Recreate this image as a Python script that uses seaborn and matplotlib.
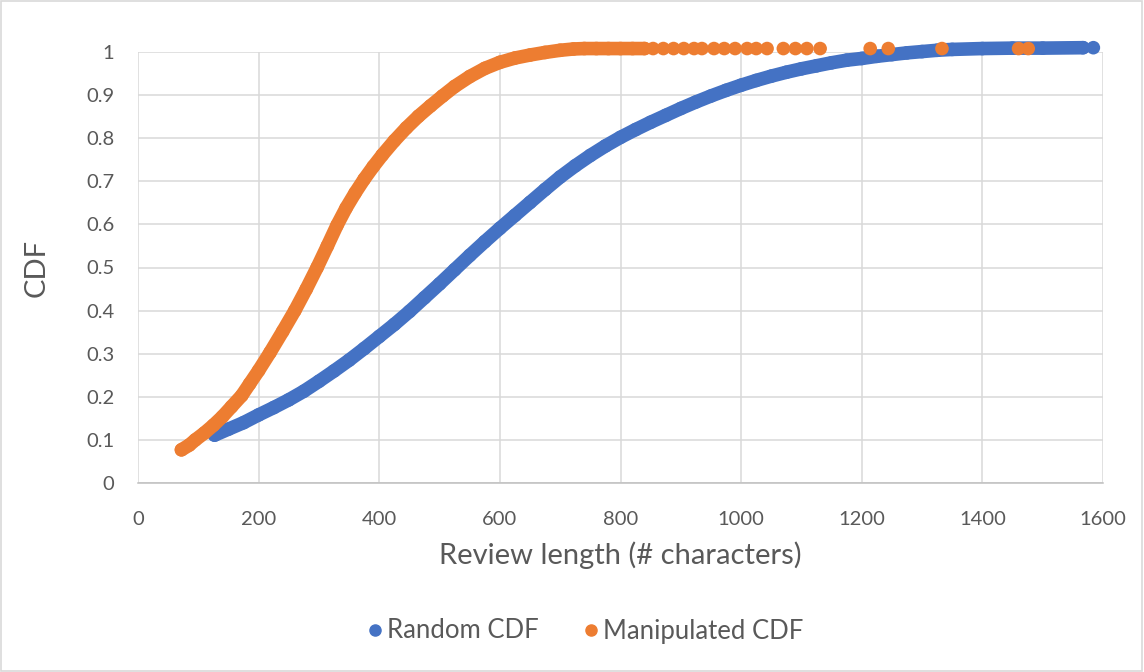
import matplotlib
matplotlib.use("Agg")
import matplotlib.pyplot as plt
from matplotlib.lines import Line2D
from matplotlib.patches import Rectangle
import seaborn as sns
import pandas as pd

# Random reviews: length (characters) vs cumulative share
random_x = [127, 150, 175, 200, 225, 250, 275, 300, 325, 350, 375, 400, 425,
            450, 475, 500, 525, 550, 575, 600, 625, 650, 675, 700, 725, 750,
            775, 800, 825, 850, 875, 900, 925, 950, 975, 1000, 1025, 1050,
            1075, 1100, 1125, 1150, 1175, 1200, 1225, 1250, 1275, 1300, 1325,
            1350, 1400, 1450, 1500, 1567]
random_cdf = [0.111, 0.125, 0.140, 0.158, 0.175, 0.193, 0.213, 0.236, 0.260,
              0.285, 0.312, 0.340, 0.368, 0.398, 0.430, 0.462, 0.495, 0.528,
              0.560, 0.591, 0.621, 0.651, 0.681, 0.710, 0.736, 0.760, 0.782,
              0.802, 0.820, 0.837, 0.853, 0.869, 0.884, 0.898, 0.911, 0.923,
              0.934, 0.944, 0.953, 0.961, 0.968, 0.975, 0.981, 0.985, 0.990,
              0.994, 0.998, 1.001, 1.004, 1.006, 1.008, 1.009, 1.009, 1.010]
random_tail_x = [1584]
random_tail_cdf = [1.010]

# Manipulated reviews
manip_x = [72, 85, 95, 110, 125, 140, 155, 172, 185, 200, 219, 240, 260, 279,
           297, 314, 330, 345, 360, 375, 390, 405, 425, 445, 465, 485, 505,
           525, 550, 575, 600, 625, 650, 675, 700, 722, 740, 760, 780, 800,
           820, 840]
manip_cdf = [0.077, 0.088, 0.100, 0.116, 0.134, 0.154, 0.177, 0.203, 0.230,
             0.261, 0.303, 0.352, 0.400, 0.450, 0.500, 0.550, 0.598, 0.638,
             0.673, 0.705, 0.734, 0.761, 0.794, 0.824, 0.851, 0.875, 0.898,
             0.920, 0.943, 0.962, 0.976, 0.986, 0.993, 0.999, 1.004, 1.007,
             1.008, 1.008, 1.008, 1.008, 1.008, 1.008]
manip_tail_x = [854, 871, 888, 905, 922, 935, 955, 972, 990, 1010, 1025, 1043,
                1070, 1090, 1109, 1131, 1214, 1244, 1333, 1460, 1476]
manip_tail_cdf = [1.008] * len(manip_tail_x)

x_ticks = [0, 200, 400, 600, 800, 1000, 1200, 1400, 1600]
y_ticks = [0, 0.1, 0.2, 0.3, 0.4, 0.5, 0.6, 0.7, 0.8, 0.9, 1.0]
y_tick_labels = ["0", "0.1", "0.2", "0.3", "0.4", "0.5", "0.6", "0.7", "0.8", "0.9", "1"]

BLUE = "#4472C4"
ORANGE = "#ED7D31"
TEXT = "#595959"
GRID = "#D9D9D9"

sns.set_theme(style="white")
plt.rcParams["font.family"] = ["Lato", "DejaVu Sans"]

fig = plt.figure(figsize=(11.44, 6.72), dpi=100)
ax = fig.add_axes([138 / 1144, 1 - 483 / 672, (1103 - 138) / 1144, (483 - 52) / 672])

MS = 9.8  # marker diameter in points


def draw_series(xs, ys, tx, ty, color, z):
    band = pd.DataFrame({"x": xs, "y": ys})
    sns.lineplot(data=band, x="x", y="y", sort=False, estimator=None, ax=ax,
                 color=color, lw=MS, solid_capstyle="round",
                 solid_joinstyle="round", zorder=z, clip_on=False)
    pts = pd.DataFrame({"x": list(xs) + list(tx), "y": list(ys) + list(ty)})
    sns.scatterplot(data=pts, x="x", y="y", ax=ax, color=color, s=MS ** 2,
                    edgecolor="none", linewidth=0, zorder=z + 0.1, clip_on=False)


draw_series(random_x, random_cdf, random_tail_x, random_tail_cdf, BLUE, 3)
draw_series(manip_x, manip_cdf, manip_tail_x, manip_tail_cdf, ORANGE, 4)

ax.set_xlim(0, 1600)
ax.set_ylim(0, 1)
ax.set_xticks(x_ticks)
ax.set_xticklabels([str(v) for v in x_ticks])
ax.set_yticks(y_ticks)
ax.set_yticklabels(y_tick_labels)
ax.tick_params(axis="both", length=0, labelsize=14.5, labelcolor=TEXT)
ax.tick_params(axis="x", pad=20)
ax.tick_params(axis="y", pad=17)
ax.grid(True, color=GRID, lw=1.1)
ax.set_axisbelow(True)
for side in ["top", "right", "left"]:
    ax.spines[side].set_visible(False)
ax.spines["bottom"].set_color("#BFBFBF")
ax.spines["bottom"].set_linewidth(1.1)

ax.set_xlabel("Review length (# characters)", fontsize=21, color=TEXT, labelpad=10)
ax.set_ylabel("CDF", fontsize=21, color=TEXT, labelpad=26)

handles = [
    Line2D([], [], marker="o", ls="none", color=BLUE, markersize=8, label="Random CDF"),
    Line2D([], [], marker="o", ls="none", color=ORANGE, markersize=8, label="Manipulated CDF"),
]
fig.legend(handles=handles, loc="center", bbox_to_anchor=(584 / 1144, 1 - 631 / 672),
           ncol=2, frameon=False, fontsize=18.5, labelcolor=TEXT,
           handletextpad=0.1, columnspacing=1.6, handlelength=0.8)

fig.patches.append(Rectangle((0.001, 0.001), 0.997, 0.997, transform=fig.transFigure,
                             fill=False, edgecolor=GRID, lw=1.2))

fig.savefig("out.png", dpi=100, facecolor="white")
